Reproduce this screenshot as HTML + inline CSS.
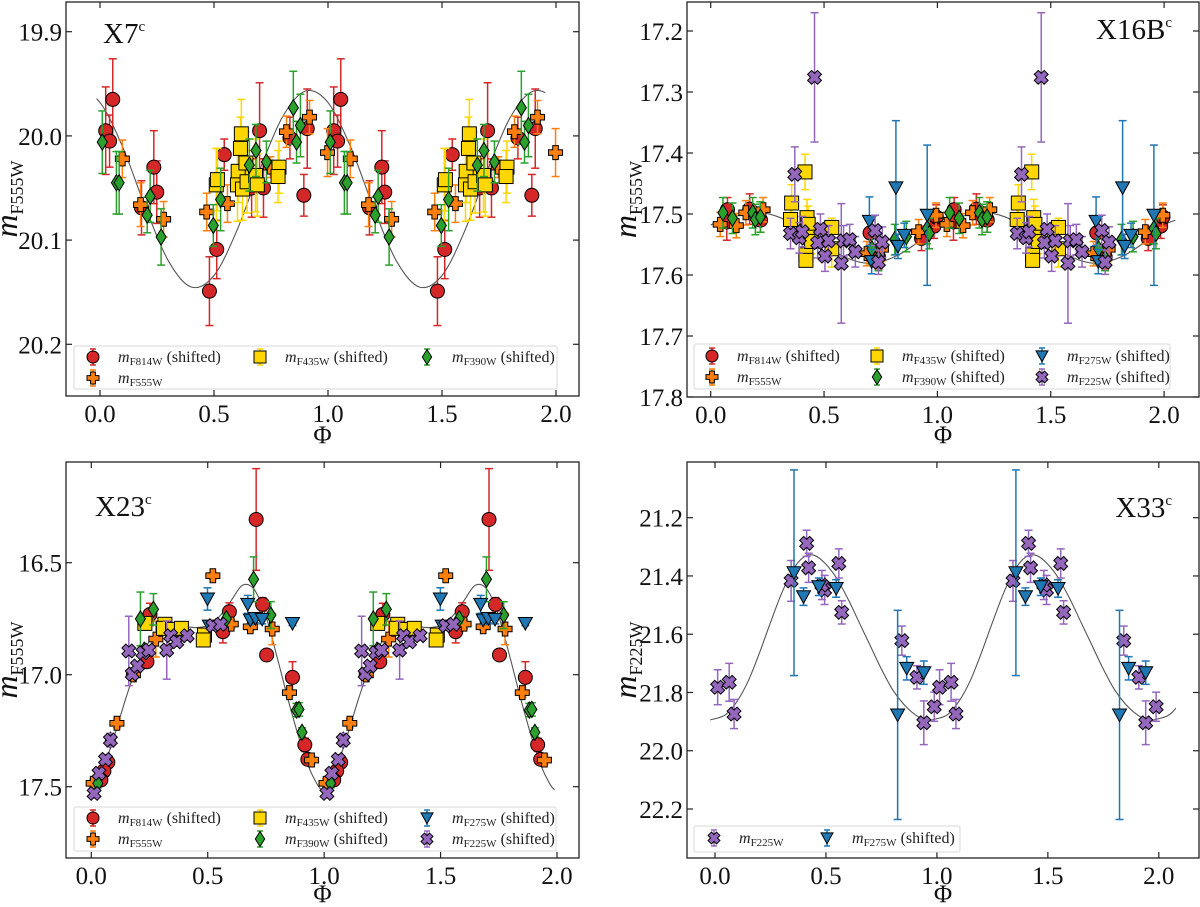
<!DOCTYPE html>
<html><head><meta charset="utf-8"><style>
html,body{margin:0;padding:0;background:#fff;}
svg{display:block;font-family:"Liberation Serif",serif;}
</style></head><body>
<svg id="fig" width="1200" height="907" viewBox="0 0 1200 907" xmlns="http://www.w3.org/2000/svg"></svg>
<script>
// ===== X7 data =====
const x7_f814_phase=[0.025,0.056,0.042,0.236,0.249,0.182,0.48,0.512,0.545,0.70,0.665,0.717,0.833,0.894,0.909];
const x7_f814_mag=[19.995,19.965,20.005,20.030,20.054,20.069,20.149,20.109,20.018,19.995,20.050,20.050,20.002,20.057,19.993];
const x7_f814_err=[0.042,0.039,0.025,0.035,0.03,0.026,0.033,0.028,0.015,0.046,0.028,0.028,0.02,0.02,0.038];
const x7_f555_phase=[0.098,0.178,0.279,0.468,0.559,0.747,0.818,0.919,0.998];
const x7_f555_mag=[20.022,20.066,20.080,20.073,20.065,20.030,19.996,19.982,20.016];
const x7_f555_err=[0.018,0.021,0.017,0.018,0.018,0.01,0.015,0.016,0.023];
const x7_f435_phase=[0.51,0.515,0.62,0.616,0.606,0.603,0.625,0.64,0.645,0.682,0.69,0.785,0.781];
const x7_f435_mag=[20.047,20.042,19.998,20.012,20.034,20.047,20.051,20.026,20.044,20.038,20.047,20.030,20.039];
const x7_f435_err=[0.035,0.03,0.033,0.03,0.03,0.035,0.03,0.03,0.03,0.035,0.03,0.025,0.025];
const x7_f390_phase=[0.01,0.072,0.084,0.22,0.207,0.268,0.497,0.529,0.655,0.684,0.73,0.848,0.862,0.879];
const x7_f390_mag=[20.006,20.045,20.045,20.058,20.076,20.097,20.086,20.061,20.028,20.014,20.025,19.973,20.006,19.990];
const x7_f390_err=[0.03,0.03,0.03,0.025,0.017,0.027,0.02,0.03,0.025,0.025,0.02,0.035,0.02,0.03];
const x7_curve_phase=[0,0.1,0.2,0.3,0.4,0.5,0.6,0.7,0.8,0.9];
const x7_curve_mag=[19.968,20.011,20.069,20.120,20.145,20.134,20.091,20.033,19.982,19.957];
const x7_yticks=[19.9,20.0,20.1,20.2];
// ===== X16B data =====
const x16_f814_phase=[0.074,0.071,0.172,0.22,0.703,0.74,0.93,0.985,0.995];
const x16_f814_mag=[17.493,17.513,17.492,17.51,17.531,17.57,17.54,17.52,17.505];
const x16_f814_err=[0.02,0.03,0.025,0.02,0.02,0.02,0.02,0.02,0.02];
const x16_f555_phase=[0.042,0.113,0.155,0.231,0.689,0.753,0.917,0.994];
const x16_f555_mag=[17.517,17.519,17.498,17.493,17.565,17.558,17.529,17.502];
const x16_f555_err=[0.02,0.02,0.02,0.02,0.02,0.02,0.02,0.02];
const x16_f435_phase=[0.357,0.352,0.416,0.425,0.43,0.436,0.42,0.42,0.534,0.534,0.445];
const x16_f435_mag=[17.482,17.509,17.431,17.506,17.517,17.538,17.567,17.576,17.522,17.557,17.545];
const x16_f435_err=[0.03,0.03,0.029,0.03,0.03,0.03,0.01,0.01,0.015,0.03,0.02];
const x16_f390_phase=[0.054,0.096,0.185,0.197,0.219,0.711,0.74,0.812,0.863,0.955,0.964];
const x16_f390_mag=[17.498,17.507,17.498,17.509,17.505,17.557,17.573,17.542,17.537,17.524,17.532];
const x16_f390_err=[0.025,0.025,0.025,0.025,0.025,0.025,0.02,0.025,0.025,0.025,0.025];
const x16_f275_phase=[0.70,0.71,0.817,0.826,0.854,0.955];
const x16_f275_mag=[17.512,17.578,17.457,17.553,17.535,17.502];
const x16_f275_err=[0.04,0.02,0.11,0.02,0.02,0.115];
const x16_f225_phase=[0.371,0.458,0.352,0.391,0.404,0.484,0.472,0.52,0.504,0.576,0.586,0.613,0.638,0.725,0.757,0.74];
const x16_f225_mag=[17.435,17.276,17.532,17.539,17.529,17.525,17.547,17.544,17.569,17.581,17.544,17.542,17.562,17.527,17.546,17.579];
const x16_f225_err=[0.045,0.106,0.025,0.025,0.025,0.025,0.025,0.025,0.025,0.098,0.025,0.025,0.025,0.025,0.025,0.02];
const x16_curve_phase=[0,0.1,0.2,0.3,0.4,0.5,0.6,0.7,0.8,0.9];
const x16_curve_mag=[17.518,17.505,17.497,17.505,17.525,17.55,17.572,17.581,17.572,17.55];
const x16_yticks=[17.2,17.3,17.4,17.5,17.6,17.7,17.8];
// ===== X23 data =====
const x23_f814_phase=[0.708,0.736,0.753,0.864,0.917,0.93,0.593,0.565,0.252,0.239,0.071,0.054,0.041];
const x23_f814_mag=[16.307,16.686,16.912,17.012,17.313,17.378,16.719,16.808,16.731,16.942,17.391,17.43,17.47];
const x23_f814_err=[0.227,0.03,0.02,0.07,0.03,0.02,0.04,0.05,0.05,0.02,0.02,0.02,0.02];
const x23_f555_phase=[0.522,0.683,0.777,0.851,0.946,0.11,0.277,0.181,0.008,0.601];
const x23_f555_mag=[16.558,16.786,16.796,17.08,17.381,17.217,16.841,17.001,17.485,16.774];
const x23_f555_err=[0.015,0.015,0.07,0.02,0.02,0.02,0.08,0.02,0.02,0.02];
const x23_f435_phase=[0.23,0.316,0.31,0.349,0.387,0.486,0.481];
const x23_f435_mag=[16.771,16.775,16.793,16.798,16.793,16.823,16.845];
const x23_f435_err=[0.02,0.02,0.02,0.02,0.02,0.02,0.02];
const x23_f390_phase=[0.697,0.771,0.881,0.892,0.905,0.211,0.267,0.227,0.082,0.028,0.58];
const x23_f390_mag=[16.574,16.734,17.158,17.155,17.257,16.751,16.708,16.89,17.292,17.485,16.75];
const x23_f390_err=[0.1,0.06,0.03,0.03,0.02,0.12,0.07,0.02,0.02,0.02,0.02];
const x23_f275_phase=[0.499,0.672,0.683,0.705,0.734,0.864,0.507];
const x23_f275_mag=[16.662,16.686,16.756,16.749,16.753,16.771,16.783];
const x23_f275_err=[0.05,0.04,0.02,0.02,0.02,0.01,0.01];
const x23_f225_phase=[0.161,0.176,0.198,0.222,0.247,0.324,0.341,0.367,0.412,0.522,0.555,0.082,0.061,0.033,0.012];
const x23_f225_mag=[16.894,16.997,16.961,16.902,16.89,16.89,16.826,16.853,16.826,16.781,16.775,17.292,17.378,17.44,17.53];
const x23_f225_err=[0.155,0.02,0.02,0.02,0.02,0.13,0.02,0.02,0.02,0.02,0.02,0.03,0.02,0.02,0.02];
const x23_curve_phase=[0,0.05,0.1,0.15,0.2,0.25,0.3,0.35,0.4,0.45,0.5,0.55,0.6,0.65,0.7,0.75,0.8,0.85,0.9,0.95];
const x23_curve_mag=[17.515,17.42,17.27,17.1,16.95,16.85,16.8,16.785,16.785,16.79,16.78,16.74,16.67,16.6,16.62,16.74,16.93,17.13,17.31,17.45];
const x23_yticks=[16.5,17.0,17.5];
// ===== X33 data =====
const x33_f225_phase=[0.012,0.064,0.086,0.343,0.413,0.422,0.494,0.482,0.558,0.571,0.842,0.91,0.941,0.988];
const x33_f225_mag=[21.782,21.765,21.874,21.417,21.288,21.372,21.448,21.431,21.357,21.525,21.622,21.748,21.904,21.849];
const x33_f225_err=[0.06,0.065,0.05,0.07,0.045,0.05,0.05,0.05,0.05,0.04,0.05,0.04,0.075,0.05];
const x33_f275_phase=[0.356,0.399,0.468,0.546,0.823,0.864,0.941];
const x33_f275_mag=[21.389,21.471,21.437,21.443,21.877,21.717,21.732];
const x33_f275_err=[0.353,0.03,0.03,0.03,0.359,0.04,0.04];
const x33_curve_phase=[0,0.05,0.1,0.15,0.2,0.25,0.3,0.35,0.4,0.45,0.5,0.55,0.6,0.65,0.7,0.75,0.8,0.85,0.9,0.95];
const x33_curve_mag=[21.89,21.875,21.83,21.76,21.665,21.56,21.46,21.38,21.335,21.33,21.36,21.41,21.48,21.56,21.64,21.72,21.79,21.84,21.875,21.895];
const x33_yticks=[21.2,21.4,21.6,21.8,22.0,22.2];
const phase_ticks=[0.0,0.5,1.0,1.5,2.0];

const NS='http://www.w3.org/2000/svg';
const svg=document.getElementById('fig');
function mk(tag,parent,attrs){const e=document.createElementNS(NS,tag);for(const k in attrs)e.setAttribute(k,attrs[k]);parent.appendChild(e);return e;}

const COL={f814:'#d62728',f555:'#ff7f0e',f435:'#ffd700',f390:'#2ca02c',f275:'#1f77b4',f225:'#9467bd'};
const SHAPE={f814:'circle',f555:'plus',f435:'square',f390:'diamond',f275:'tri',f225:'x'};

function marker(g,kind,cx,cy,s,color){
  let e;
  if(kind==='circle'){e=mk('circle',g,{cx:cx,cy:cy,r:s});}
  else if(kind==='square'){e=mk('rect',g,{x:cx-s,y:cy-s,width:2*s,height:2*s});}
  else if(kind==='diamond'){e=mk('polygon',g,{points:`${cx},${cy-s*1.15} ${cx+s*0.72},${cy} ${cx},${cy+s*1.15} ${cx-s*0.72},${cy}`});}
  else if(kind==='tri'){e=mk('polygon',g,{points:`${cx-s},${cy-s*0.85} ${cx+s},${cy-s*0.85} ${cx},${cy+s*0.95}`});}
  else if(kind==='plus'){const a=s,b=s*0.4;e=mk('polygon',g,{points:`${cx-b},${cy-a} ${cx+b},${cy-a} ${cx+b},${cy-b} ${cx+a},${cy-b} ${cx+a},${cy+b} ${cx+b},${cy+b} ${cx+b},${cy+a} ${cx-b},${cy+a} ${cx-b},${cy+b} ${cx-a},${cy+b} ${cx-a},${cy-b} ${cx-b},${cy-b}`});}
  else {const a=s,b=s*0.4;const pts=[[-b,-a],[b,-a],[b,-b],[a,-b],[a,b],[b,b],[b,a],[-b,a],[-b,b],[-a,b],[-a,-b],[-b,-b]];
    const c=Math.SQRT1_2;e=mk('polygon',g,{points:pts.map(p=>`${cx+(p[0]-p[1])*c},${cy+(p[0]+p[1])*c}`).join(' ')});}
  e.setAttribute('fill',color);e.setAttribute('stroke','#000');e.setAttribute('stroke-width','1');
  return e;
}
function errbar(g,x,y1,y2,color,cap){
  mk('line',g,{x1:x,y1:y1,x2:x,y2:y2,stroke:color,'stroke-width':1.5});
  mk('line',g,{x1:x-cap,y1:y1,x2:x+cap,y2:y1,stroke:color,'stroke-width':1.5});
  mk('line',g,{x1:x-cap,y1:y2,x2:x+cap,y2:y2,stroke:color,'stroke-width':1.5});
}
function catmull(pts){
  let d=`M${pts[0][0]},${pts[0][1]}`;
  for(let i=0;i<pts.length-1;i++){const p0=pts[Math.max(0,i-1)],p1=pts[i],p2=pts[i+1],p3=pts[Math.min(pts.length-1,i+2)];
    d+=` C${p1[0]+(p2[0]-p0[0])/6},${p1[1]+(p2[1]-p0[1])/6} ${p2[0]-(p3[0]-p1[0])/6},${p2[1]-(p3[1]-p1[1])/6} ${p2[0]},${p2[1]}`;}
  return d;
}

function panel(P){
  const g=mk('g',svg,{});
  
  
  const X=p=>P.x0+p*P.xs, Y=m=>P.y0+(m-P.m0)*P.ys;
  const cp=mk('clipPath',g,{id:P.id+'-clip'});
  mk('rect',cp,{x:X(P.cs),y:P.top,width:X(P.ce)-X(P.cs),height:P.bottom-P.top});
  const pts=[];
  for(let k=-1;k<=2;k++){for(let i=0;i<P.cph.length;i++){pts.push([X(P.cph[i]+k),Y(P.cmag[i])]);}}
  const cu=mk('path',g,{d:catmull(pts),fill:'none',stroke:'#555','stroke-width':1.1,'clip-path':`url(#${P.id}-clip)`});
  
  
  P.series.forEach(S=>{
    const sg=mk('g',g,{});
    
    
    const eg=mk('g',sg,{});
    const mgp=mk('g',sg,{});
    for(let i=0;i<S.ph.length;i++){
      for(let k=0;k<=1;k++){
        const p=S.ph[i]+k; if(p>P.pmax)continue;
        const x=X(p);
        errbar(eg,x,Y(S.mag[i]-S.err[i]),Y(S.mag[i]+S.err[i]),COL[S.key],4);
        const m=marker(mgp,SHAPE[S.key],x,Y(S.mag[i]),7,COL[S.key]);
        
        
      }
    }
  });
  const fr=mk('rect',g,{x:P.left,y:P.top,width:P.right-P.left,height:P.bottom-P.top,fill:'none',stroke:'#222','stroke-width':1.3});
  
  
  phase_ticks.forEach(t=>{const x=X(t);
    mk('line',g,{x1:x,y1:P.bottom,x2:x,y2:P.bottom-6,stroke:'#222','stroke-width':1.2});
    mk('line',g,{x1:x,y1:P.top,x2:x,y2:P.top+6,stroke:'#222','stroke-width':1.2});
    const tx=mk('text',g,{x:x,y:P.bottom+26,'font-size':25,'text-anchor':'middle',fill:'#111'});
    tx.textContent=t.toFixed(1);
    
    
  });
  P.yticks.forEach(t=>{const y=Y(t);
    mk('line',g,{x1:P.left,y1:y,x2:P.left+6,y2:y,stroke:'#222','stroke-width':1.2});
    mk('line',g,{x1:P.right,y1:y,x2:P.right-6,y2:y,stroke:'#222','stroke-width':1.2});
    const tx=mk('text',g,{x:P.left-4,y:y+9,'font-size':25,'text-anchor':'end',fill:'#111'});
    tx.textContent=t.toFixed(1);
    
    
  });
  const xl=mk('text',g,{x:(P.left+P.right)/2,y:P.xlY,'font-size':25,'text-anchor':'middle',fill:'#111'});
  xl.textContent='Φ';
  
  
  const cy=(P.top+P.bottom)/2;
  const yl=mk('text',g,{x:P.ylX,y:cy,'font-size':32,'text-anchor':'middle',fill:'#111',transform:`rotate(-90 ${P.ylX} ${cy})`});
  
  
  const t1=mk('tspan',yl,{'font-style':'italic'});t1.textContent='m';
  const t2=mk('tspan',yl,{'font-size':18,dy:6});t2.textContent=P.ysub;
  const sl=mk('text',g,{x:P.lx,y:P.ly,'font-size':29,'text-anchor':P.la,fill:'#111'});
  
  
  const s1=mk('tspan',sl,{});s1.textContent=P.label;
  const s2=mk('tspan',sl,{'font-size':15,dy:-12});s2.textContent='c';
  const L=P.legend;
  const lg=mk('g',g,{});
  
  
  mk('rect',lg,{x:L.x,y:L.y,width:L.w,height:L.h,rx:2,fill:'#fff','fill-opacity':0.85,stroke:'#d8d8d8','stroke-width':1});
  L.entries.forEach(en=>{
    const mx=L.cols[en.c], my=L.rows[en.r];
    const eg=mk('g',lg,{});
    
    
    errbar(eg,mx,my-8,my+8,COL[en.key],3);
    marker(eg,SHAPE[en.key],mx,my,en.key==='f390'?6.5:6,COL[en.key]);
    const tx=mk('text',eg,{x:mx+25,y:my+5,'font-size':16,fill:'#222'});
    const a=mk('tspan',tx,{'font-style':'italic'});a.textContent='m';
    const b=mk('tspan',tx,{'font-size':11,dy:3});b.textContent=en.sub;
    if(en.sh){const c=mk('tspan',tx,{dy:-3,dx:4});c.textContent='(shifted)';}
  });
}

const S=(key,ph,mag,err)=>({key,ph,mag,err});
panel({id:'p1',name:'panel-x7',left:66,top:2,right:579,bottom:396,x0:100,xs:228,y0:31.7,m0:19.9,ys:1042,
  pmax:2.05,cs:-0.015,ce:1.953,cph:x7_curve_phase,cmag:x7_curve_mag,yticks:x7_yticks,
  xlY:443,ylX:17,ysub:'F555W',label:'X7',lx:103,ly:43,la:'start',
  series:[S('f814',x7_f814_phase,x7_f814_mag,x7_f814_err),S('f555',x7_f555_phase,x7_f555_mag,x7_f555_err),
    S('f435',x7_f435_phase,x7_f435_mag,x7_f435_err),S('f390',x7_f390_phase,x7_f390_mag,x7_f390_err)],
  legend:{x:74,y:346,w:483,h:43,cols:[93,260,427],rows:[357,378],entries:[
    {key:'f814',sub:'F814W',sh:true,c:0,r:0},{key:'f555',sub:'F555W',sh:false,c:0,r:1},
    {key:'f435',sub:'F435W',sh:true,c:1,r:0},{key:'f390',sub:'F390W',sh:true,c:2,r:0}]}});
panel({id:'p2',name:'panel-x16b',left:687,top:2,right:1199,bottom:397,x0:710.7,xs:226.7,y0:31,m0:17.2,ys:610,
  pmax:2.05,cs:0,ce:2.05,cph:x16_curve_phase,cmag:x16_curve_mag,yticks:x16_yticks,
  xlY:443,ylX:636,ysub:'F555W',label:'X16B',lx:1172,ly:39,la:'end',
  series:[S('f814',x16_f814_phase,x16_f814_mag,x16_f814_err),S('f555',x16_f555_phase,x16_f555_mag,x16_f555_err),
    S('f435',x16_f435_phase,x16_f435_mag,x16_f435_err),S('f390',x16_f390_phase,x16_f390_mag,x16_f390_err),
    S('f275',x16_f275_phase,x16_f275_mag,x16_f275_err),S('f225',x16_f225_phase,x16_f225_mag,x16_f225_err)],
  legend:{x:694,y:344,w:476,h:45,cols:[712,877,1042],rows:[356,377],entries:[
    {key:'f814',sub:'F814W',sh:true,c:0,r:0},{key:'f555',sub:'F555W',sh:false,c:0,r:1},
    {key:'f435',sub:'F435W',sh:true,c:1,r:0},{key:'f390',sub:'F390W',sh:true,c:1,r:1},
    {key:'f275',sub:'F275W',sh:true,c:2,r:0},{key:'f225',sub:'F225W',sh:true,c:2,r:1}]}});
panel({id:'p3',name:'panel-x23',left:66,top:462,right:579,bottom:858,x0:91.3,xs:232.85,y0:562.7,m0:16.5,ys:224,
  pmax:2.05,cs:0,ce:1.99,cph:x23_curve_phase,cmag:x23_curve_mag,yticks:x23_yticks,
  xlY:902,ylX:17,ysub:'F555W',label:'X23',lx:95,ly:516,la:'start',
  series:[S('f814',x23_f814_phase,x23_f814_mag,x23_f814_err),S('f555',x23_f555_phase,x23_f555_mag,x23_f555_err),
    S('f435',x23_f435_phase,x23_f435_mag,x23_f435_err),S('f390',x23_f390_phase,x23_f390_mag,x23_f390_err),
    S('f275',x23_f275_phase,x23_f275_mag,x23_f275_err),S('f225',x23_f225_phase,x23_f225_mag,x23_f225_err)],
  legend:{x:74,y:807,w:482,h:44,cols:[93,260,427],rows:[818,839],entries:[
    {key:'f814',sub:'F814W',sh:true,c:0,r:0},{key:'f555',sub:'F555W',sh:false,c:0,r:1},
    {key:'f435',sub:'F435W',sh:true,c:1,r:0},{key:'f390',sub:'F390W',sh:true,c:1,r:1},
    {key:'f275',sub:'F275W',sh:true,c:2,r:0},{key:'f225',sub:'F225W',sh:true,c:2,r:1}]}});
panel({id:'p4',name:'panel-x33',left:687,top:462,right:1199,bottom:858,x0:715,xs:221.9,y0:517.7,m0:21.2,ys:291.3,
  pmax:2.05,cs:-0.022,ce:2.077,cph:x33_curve_phase,cmag:x33_curve_mag,yticks:x33_yticks,
  xlY:902,ylX:636,ysub:'F225W',label:'X33',lx:1172,ly:517,la:'end',
  series:[S('f225',x33_f225_phase,x33_f225_mag,x33_f225_err),S('f275',x33_f275_phase,x33_f275_mag,x33_f275_err)],
  legend:{x:694,y:826,w:266,h:26,cols:[714,827],rows:[838],entries:[
    {key:'f225',sub:'F225W',sh:false,c:0,r:0},{key:'f275',sub:'F275W',sh:true,c:1,r:0}]}});
</script>
</body></html>
